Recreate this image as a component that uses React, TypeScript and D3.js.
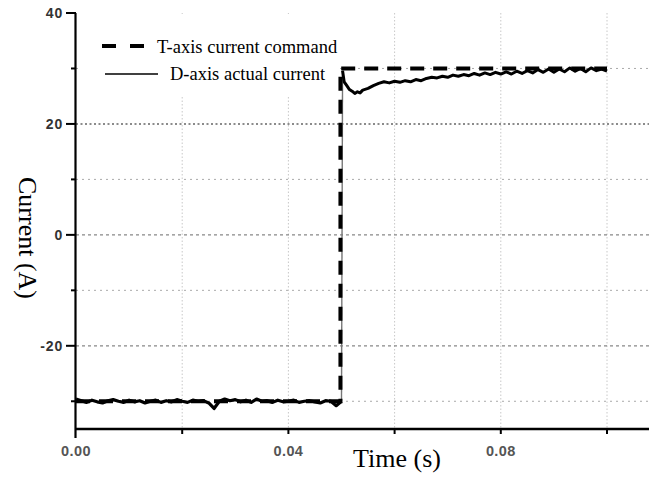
import React from "react";
import * as d3 from "d3";

// reference current (step command)
const cmdTime = [0, 0.0498, 0.0498, 0.1];
const cmdValue = [-30, -30, 30, 30];

// measured current before the step (1 ms samples)
const preTime = d3.range(0, 0.0505, 0.001);
const preValue = [
  -29.6, -29.9, -30.2, -29.8, -30.1, -30.3, -29.9, -29.7, -30.0, -30.2,
  -29.8, -30.1, -29.9, -30.3, -30.0, -29.8, -30.2, -29.9, -30.1, -29.7,
  -30.0, -30.2, -29.8, -30.0, -29.9, -30.3, -31.3, -30.0, -29.6, -29.9,
  -29.7, -30.1, -29.8, -30.2, -29.6, -30.0, -29.9, -30.2, -29.8, -30.1,
  -30.0, -29.8, -30.2, -30.0, -29.9, -30.1, -30.3, -29.9, -30.0, -30.8,
  -30.0,
];

// measured current after the step
const postTime = [
  0.0502, 0.0505, 0.051, 0.0515, 0.052, 0.0525, 0.053, 0.0535, 0.054, 0.055,
  0.056, 0.057, 0.058, 0.059, 0.06, 0.061, 0.062, 0.063, 0.064, 0.065,
  0.066, 0.067, 0.068, 0.069, 0.07, 0.071, 0.072, 0.073, 0.074, 0.075,
  0.076, 0.077, 0.078, 0.079, 0.08, 0.081, 0.082, 0.083, 0.084, 0.085,
  0.086, 0.087, 0.088, 0.089, 0.09, 0.091, 0.092, 0.093, 0.094, 0.095,
  0.096, 0.097, 0.098, 0.099, 0.1,
];
const postValue = [
  29.6, 27.6, 26.9, 26.2, 25.9, 25.5, 25.8, 25.6, 26.1, 26.4,
  26.9, 27.3, 27.6, 27.4, 27.7, 27.5, 27.8, 27.6, 28.0, 27.8,
  28.2, 28.4, 28.3, 28.6, 28.4, 28.8, 28.6, 28.9, 28.7, 29.1,
  28.8, 29.2, 28.9, 29.3, 29.0, 29.4, 29.0, 29.5, 29.1, 29.6,
  29.2, 29.8, 29.3, 29.9, 29.3, 29.9, 29.4, 30.1, 29.5, 30.0,
  29.4, 30.1, 29.6, 29.9, 29.5,
];

const xTicks = [0, 0.02, 0.04, 0.06, 0.08, 0.1];
const xLabels = ["0.00", "", "0.04", "", "0.08", ""];
const yTicks = [40, 30, 20, 10, 0, -10, -20, -30];
const yLabels = ["40", "", "20", "", "0", "", "-20", ""];

const W = 649;
const H = 477;

export default function App() {
  const x = d3.scaleLinear().domain([0, 0.1]).range([76, 607]);
  const y = d3.scaleLinear().domain([-35, 40]).range([429, 13]);

  const line = d3
    .line<[number, number]>()
    .x((d) => x(d[0]))
    .y((d) => y(d[1]));

  const cmd = cmdTime.map((t, i) => [t, cmdValue[i]] as [number, number]);
  const pre = preTime.map((t, i) => [t, preValue[i]] as [number, number]);
  const post = postTime.map((t, i) => [t, postValue[i]] as [number, number]);
  const edge = [pre[pre.length - 1], post[0]];

  const gridStyle = (v: number) => {
    if (v === 20) return { stroke: "#666", width: 1.4, dash: "2,2.5" };
    if (v === 0 || v === -20) return { stroke: "#888", width: 1.2, dash: "3,3" };
    return { stroke: "#aaa", width: 1, dash: "2,4" };
  };

  const serif = "'Liberation Serif', 'Times New Roman', serif";
  const sans = "'Liberation Sans', Arial, sans-serif";

  return (
    <svg
      width={W}
      height={H}
      style={{ position: "absolute", left: 0, top: 0, background: "#fff" }}
    >
      {/* vertical grid */}
      {xTicks.slice(1).map((t) => (
        <line
          key={"vx" + t}
          x1={x(t)}
          x2={x(t)}
          y1={y(40)}
          y2={y(-35)}
          stroke="#c8c8c8"
          strokeWidth={1}
          strokeDasharray="1.5,2"
        />
      ))}
      {/* horizontal grid */}
      {yTicks.slice(1).map((v) => {
        const s = gridStyle(v);
        return (
          <line
            key={"hy" + v}
            x1={76}
            x2={W}
            y1={y(v)}
            y2={y(v)}
            stroke={s.stroke}
            strokeWidth={s.width}
            strokeDasharray={s.dash}
          />
        );
      })}

      {/* legend background */}
      <rect x={78} y={14} width={262} height={83} fill="#fff" />

      {/* actual current */}
      <path d={line(pre) || ""} fill="none" stroke="#000" strokeWidth={3.2} strokeLinejoin="round" />
      <path d={line(edge) || ""} fill="none" stroke="#777" strokeWidth={1.4} />
      <path d={line(post) || ""} fill="none" stroke="#000" strokeWidth={3} strokeLinejoin="round" />

      {/* command */}
      <path
        d={line(cmd) || ""}
        fill="none"
        stroke="#000"
        strokeWidth={4}
        strokeDasharray="14,9"
      />

      {/* axes */}
      <line x1={75.5} x2={75.5} y1={y(40)} y2={438} stroke="#000" strokeWidth={2.2} />
      <line x1={75} x2={W} y1={y(-35)} y2={y(-35)} stroke="#000" strokeWidth={2.5} />
      {yTicks.map((v, i) => (
        <g key={"yt" + v}>
          <line
            x1={yLabels[i] ? 66 : 71}
            x2={76}
            y1={y(v)}
            y2={y(v)}
            stroke="#000"
            strokeWidth={2}
          />
          {yLabels[i] && (
            <text
              x={63}
              y={y(v)}
              dy="0.36em"
              textAnchor="end"
              fontFamily={sans}
              fontWeight="bold"
              fontSize={14}
              letterSpacing={0.8}
              fill="#333"
            >
              {yLabels[i]}
            </text>
          )}
        </g>
      ))}
      {xTicks.map((t, i) => (
        <g key={"xt" + t}>
          {i > 0 && (
            <line x1={x(t)} x2={x(t)} y1={429} y2={434} stroke="#000" strokeWidth={2} />
          )}
          {xLabels[i] && (
            <text
              x={x(t)}
              y={456}
              textAnchor="middle"
              fontFamily={sans}
              fontWeight="bold"
              fontSize={14.5}
              letterSpacing={0.4}
              fill="#555"
            >
              {xLabels[i]}
            </text>
          )}
        </g>
      ))}

      {/* axis titles */}
      <text x={397} y={467} textAnchor="middle" fontFamily={serif} fontSize={26} fill="#000">
        Time (s)
      </text>
      <text
        transform="translate(19,238) rotate(90)"
        textAnchor="middle"
        fontFamily={serif}
        fontSize={26}
        fill="#000"
      >
        Current (A)
      </text>

      {/* legend */}
      <line x1={102} x2={144} y1={46} y2={46} stroke="#000" strokeWidth={4} strokeDasharray="14,14" />
      <text x={157} y={53} fontFamily={serif} fontSize={18.5} fill="#000">
        T-axis current command
      </text>
      <line x1={105} x2={158} y1={74} y2={74} stroke="#000" strokeWidth={1.5} />
      <text x={170} y={80} fontFamily={serif} fontSize={18.5} fill="#000">
        D-axis actual current
      </text>
    </svg>
  );
}
